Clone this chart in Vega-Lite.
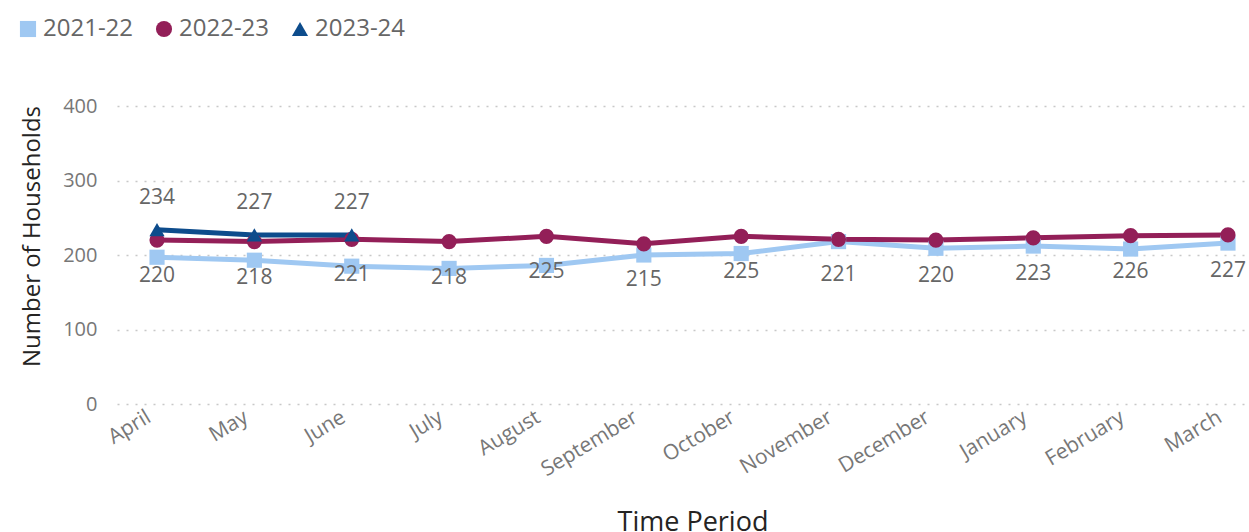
{
  "$schema": "https://vega.github.io/schema/vega-lite/v6.json",
  "width": 1151,
  "height": 298,
  "autosize": "none",
  "padding": {"left": 117, "top": 106, "right": 0, "bottom": 128},
  "background": "white",
  "config": {"view": {"stroke": null}, "font": "Open Sans"},
  "data": {"values": [
    {"month": "April", "series": "2021-22", "value": 197},
    {"month": "May", "series": "2021-22", "value": 193},
    {"month": "June", "series": "2021-22", "value": 185},
    {"month": "July", "series": "2021-22", "value": 182},
    {"month": "August", "series": "2021-22", "value": 186},
    {"month": "September", "series": "2021-22", "value": 200},
    {"month": "October", "series": "2021-22", "value": 202},
    {"month": "November", "series": "2021-22", "value": 218},
    {"month": "December", "series": "2021-22", "value": 209},
    {"month": "January", "series": "2021-22", "value": 212},
    {"month": "February", "series": "2021-22", "value": 208},
    {"month": "March", "series": "2021-22", "value": 216},
    {"month": "April", "series": "2022-23", "value": 220},
    {"month": "May", "series": "2022-23", "value": 218},
    {"month": "June", "series": "2022-23", "value": 221},
    {"month": "July", "series": "2022-23", "value": 218},
    {"month": "August", "series": "2022-23", "value": 225},
    {"month": "September", "series": "2022-23", "value": 215},
    {"month": "October", "series": "2022-23", "value": 225},
    {"month": "November", "series": "2022-23", "value": 221},
    {"month": "December", "series": "2022-23", "value": 220},
    {"month": "January", "series": "2022-23", "value": 223},
    {"month": "February", "series": "2022-23", "value": 226},
    {"month": "March", "series": "2022-23", "value": 227},
    {"month": "April", "series": "2023-24", "value": 234},
    {"month": "May", "series": "2023-24", "value": 227},
    {"month": "June", "series": "2023-24", "value": 227}
  ]},
  "encoding": {
    "x": {
      "field": "month", "type": "ordinal",
      "sort": ["April","May","June","July","August","September","October","November","December","January","February","March"],
      "scale": {"type": "point", "padding": 0.411},
      "axis": {
        "title": "Time Period", "titleFontSize": 27, "titleColor": "#252423", "titleFontWeight": "normal",
        "titleY": 118, "titleBaseline": "middle",
        "domain": false, "ticks": false, "grid": false,
        "labelAngle": -31, "labelAlign": "right", "labelBaseline": "top",
        "labelFontSize": 21, "labelColor": "#777777", "labelPadding": 2, "labelOffset": -14
      }
    },
    "y": {
      "field": "value", "type": "quantitative",
      "scale": {"domain": [0, 400], "nice": false},
      "axis": {
        "values": [0, 100, 200, 300, 400],
        "grid": true, "gridDash": [2, 7], "gridColor": "#c8c8c8", "gridWidth": 1.5,
        "domain": false, "ticks": false,
        "labelFontSize": 20, "labelColor": "#777777", "labelPadding": 20,
        "title": "Number of Households", "titleFontSize": 24, "titleColor": "#252423", "titleFontWeight": "normal",
        "titleX": -85, "titleY": 130, "titleAngle": -90, "titleBaseline": "middle", "titleAlign": "center"
      }
    }
  },
  "layer": [
    {
      "mark": {"type": "line", "strokeWidth": 5},
      "encoding": {
        "color": {"field": "series", "type": "nominal",
          "scale": {"domain": ["2021-22","2022-23","2023-24"], "range": ["#9fc8f2","#931f58","#0d4c8c"]},
          "legend": {"title": null, "orient": "none", "legendX": -101, "legendY": -89, "direction": "horizontal",
            "symbolSize": 260, "labelFontSize": 24, "labelColor": "#666666", "columnPadding": 18, "labelOffset": 3,
            "symbolStrokeWidth": 0}
        }
      }
    },
    {
      "mark": {"type": "point", "filled": true, "opacity": 1, "size": 230},
      "encoding": {
        "color": {"field": "series", "type": "nominal"},
        "shape": {"field": "series", "type": "nominal",
          "scale": {"domain": ["2021-22","2022-23","2023-24"], "range": ["square","circle","triangle-up"]},
          "legend": null}
      }
    },
    {
      "transform": [{"filter": "datum.series == '2022-23'"}],
      "mark": {"type": "text", "dy": 36, "fontSize": 21, "color": "#666666", "baseline": "middle"},
      "encoding": {"text": {"field": "value", "type": "quantitative"}}
    },
    {
      "transform": [{"filter": "datum.series == '2023-24'"}],
      "mark": {"type": "text", "dy": -32, "fontSize": 21, "color": "#666666", "baseline": "middle"},
      "encoding": {"text": {"field": "value", "type": "quantitative"}}
    }
  ]
}
